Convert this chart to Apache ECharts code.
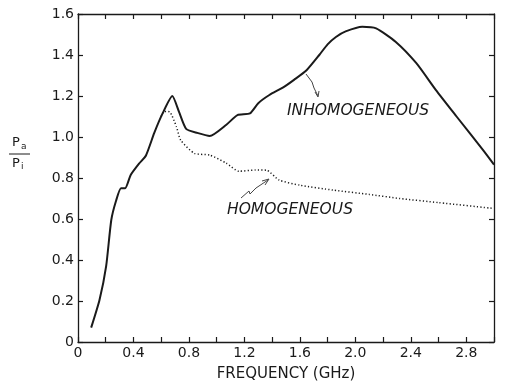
<!DOCTYPE html>
<html><head><meta charset="utf-8">
<script src="https://cdn.jsdelivr.net/npm/echarts@6/dist/echarts.min.js"></script>
<style>html,body{margin:0;padding:0;background:#fff}#c{width:510px;height:388px}</style>
</head><body><div id="c"></div>
<script>
// Data
var inhomFreq = [0.095,0.155,0.203,0.24,0.275,0.31,0.34,0.38,0.44,0.49,0.55,0.61,0.68,0.73,0.78,0.86,0.95,1.07,1.15,1.24,1.30,1.38,1.48,1.56,1.65,1.74,1.80,1.86,1.93,2.05,2.15,2.29,2.44,2.58,2.73,2.92,3.0];
var inhomVal  = [0.07,0.205,0.37,0.595,0.69,0.75,0.75,0.815,0.87,0.91,1.02,1.115,1.20,1.12,1.04,1.02,1.005,1.06,1.107,1.115,1.165,1.205,1.242,1.28,1.327,1.40,1.452,1.488,1.515,1.538,1.53,1.465,1.36,1.23,1.10,0.937,0.865];
var homFreq = [0.60,0.62,0.66,0.71,0.74,0.84,0.95,1.07,1.16,1.28,1.36,1.45,1.6,1.84,2.1,2.32,2.6,2.99];
var homVal  = [1.10,1.125,1.123,1.05,0.985,0.92,0.912,0.872,0.833,0.839,0.838,0.79,0.765,0.741,0.72,0.70,0.68,0.652];
var xLabels = ['0','0.4','0.8','1.2','1.6','2.0','2.4','2.8'];
var yLabels = ['0','0.2','0.4','0.6','0.8','1.0','1.2','1.4','1.6'];

function pairs(xs, ys){ return xs.map(function(x,i){return [x, ys[i]];}); }
var FONT = 'DejaVu Sans';
var INK = '#1a1a1a';

var chart = echarts.init(document.getElementById('c'), null, {renderer:'canvas'});
var tick = {show:true, inside:true, length:5, lineStyle:{color:INK, width:1.2}};
var line = {show:true, onZero:false, lineStyle:{color:INK, width:1.3}};
function xFmt(v){ var i = Math.round(v/0.4); if (Math.abs(v - i*0.4) < 1e-6 && i < xLabels.length) return xLabels[i]; return ''; }
function yFmt(v){ var i = Math.round(v/0.2); return yLabels[i] || ''; }

chart.setOption({
  animation:false,
  grid:{left:78, right:16, top:14, bottom:46},
  xAxis:[
    {type:'value', min:0, max:3, interval:0.2, axisLine:line, axisTick:tick, splitLine:{show:false},
     axisLabel:{formatter:xFmt, color:INK, fontFamily:FONT, fontSize:14, margin:4, showMaxLabel:true},
     name:'FREQUENCY (GHz)', nameLocation:'middle', nameGap:25, nameTextStyle:{color:INK, fontFamily:FONT, fontSize:15}},
    {type:'value', position:'top', min:0, max:3, interval:0.2, axisLine:line, axisTick:tick, axisLabel:{show:false}, splitLine:{show:false}}
  ],
  yAxis:[
    {type:'value', min:0, max:1.6, interval:0.2, axisLine:line, axisTick:tick, splitLine:{show:false},
     axisLabel:{formatter:yFmt, color:INK, fontFamily:FONT, fontSize:14, margin:4}},
    {type:'value', position:'right', min:0, max:1.6, interval:0.2, axisLine:line, axisTick:tick, axisLabel:{show:false}, splitLine:{show:false}}
  ],
  series:[
    {type:'line', data:pairs(inhomFreq, inhomVal), showSymbol:false, smooth:0.2,
     lineStyle:{color:INK, width:2}},
    {type:'line', data:pairs(homFreq, homVal), showSymbol:false, smooth:0.2,
     lineStyle:{color:INK, width:1.5, type:[1.2,2.2]}}
  ],
  graphic:[
    {type:'text', left:287, top:103, style:{text:'INHOMOGENEOUS', font:'italic 15.5px "DejaVu Sans"', fill:INK}},
    {type:'text', left:227, top:202, style:{text:'HOMOGENEOUS', font:'italic 15.5px "DejaVu Sans"', fill:INK}},
    {type:'polyline', shape:{points:[[306,74],[312,82],[314,88],[318,96]]}, style:{stroke:'#444', lineWidth:1, fill:null}},
    {type:'polyline', shape:{points:[[315,92],[318,97],[319,91]]}, style:{stroke:'#444', lineWidth:1, fill:null}},
    {type:'polyline', shape:{points:[[241,198],[249,191],[250,194],[256,188],[268,180]]}, style:{stroke:'#444', lineWidth:1, fill:null}},
    {type:'polyline', shape:{points:[[262,181],[269,179],[265,185]]}, style:{stroke:'#444', lineWidth:1, fill:null}},
    {type:'text', left:12, top:136, style:{text:'P', font:'13px "DejaVu Sans"', fill:INK}},
    {type:'text', left:21, top:142, style:{text:'a', font:'9px "DejaVu Sans"', fill:INK}},
    {type:'line', shape:{x1:9, y1:154, x2:30, y2:154}, style:{stroke:INK, lineWidth:1}},
    {type:'text', left:12, top:157, style:{text:'P', font:'13px "DejaVu Sans"', fill:INK}},
    {type:'text', left:21, top:162, style:{text:'i', font:'9px "DejaVu Sans"', fill:INK}}
  ]
});
</script></body></html>
